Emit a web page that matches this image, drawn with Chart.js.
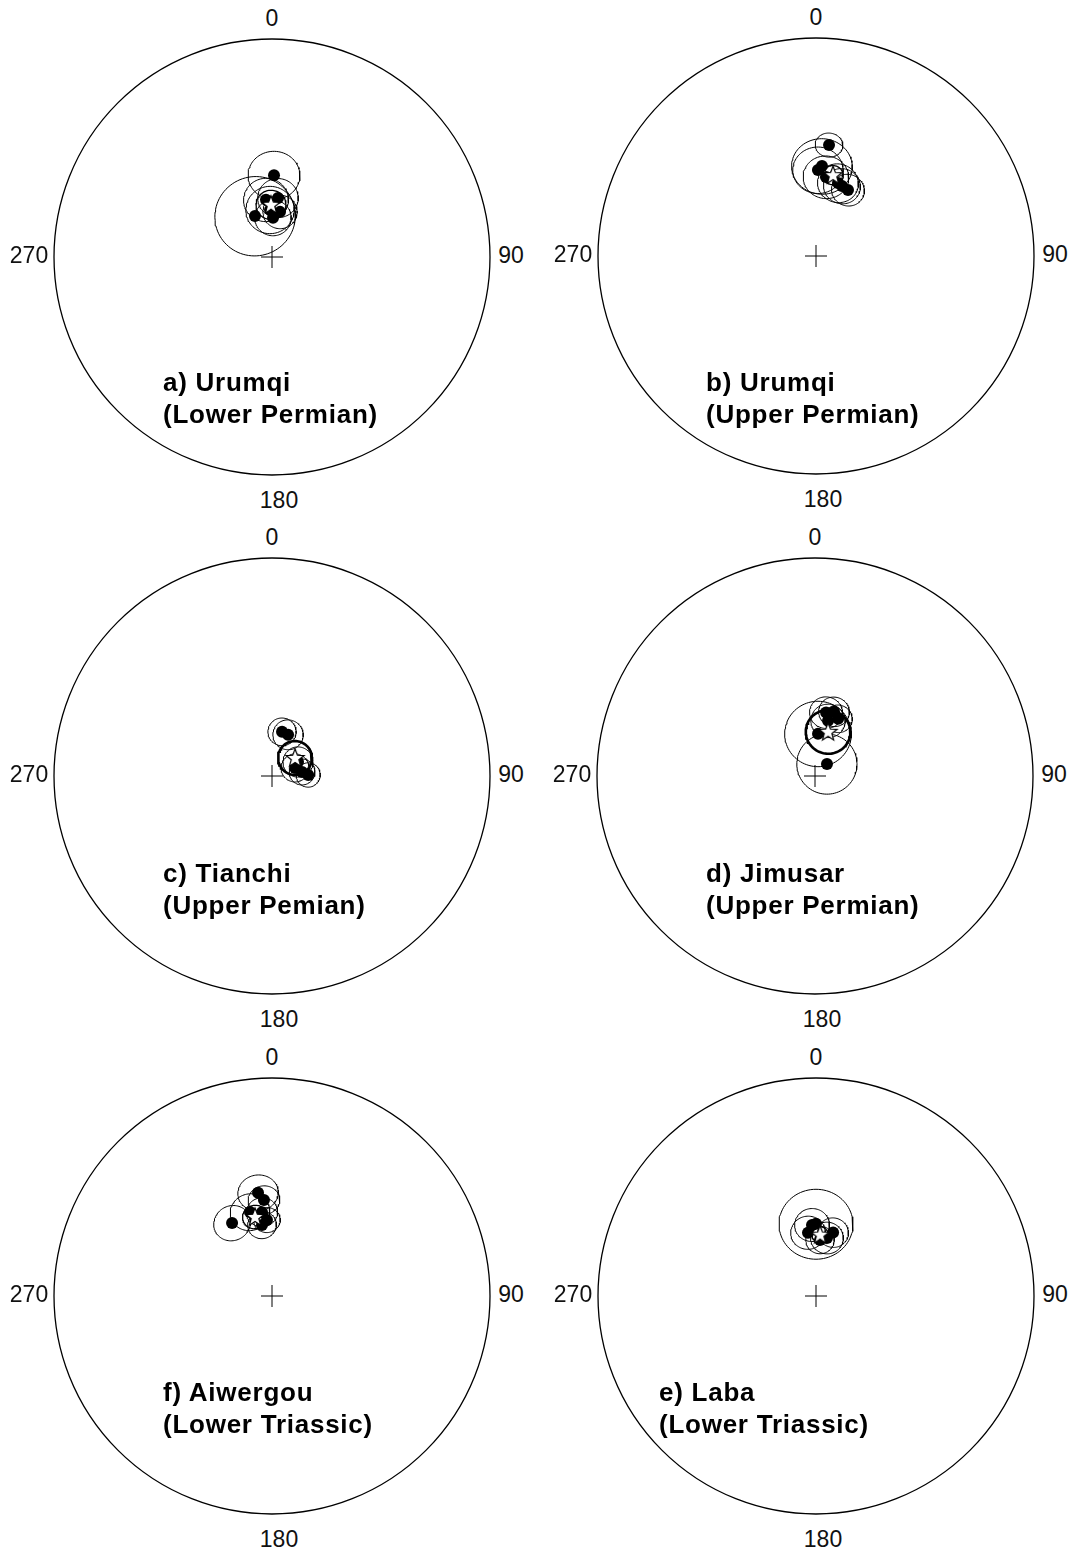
<!DOCTYPE html>
<html>
<head>
<meta charset="utf-8">
<script src="https://cdn.jsdelivr.net/npm/chart.js@4.4.1/dist/chart.umd.min.js"></script>
<style>
  body { margin: 0; background: #fff; }
  #page { position: relative; width: 1074px; height: 1553px; overflow: hidden; }
  canvas { position: absolute; }
  .lbl { position: absolute; font-family: "Liberation Sans", Arial, sans-serif; font-size: 23px; color: #111; transform: translate(-50%, -50%); white-space: nowrap; }
  .ttl { position: absolute; font-family: "Liberation Sans", Arial, sans-serif; font-weight: bold; font-size: 26px; letter-spacing: 0.75px; line-height: 32px; color: #000; white-space: nowrap; }
</style>
</head>
<body>
<div id="page"></div>
<script>
// site mean directions (declination, inclination, alpha95)
const decA = [1.4, 337.5, 1.5, 354, 5.8, 357.6, 10.1];
const incA = [59.2, 73.4, 75.4, 68.5, 67.8, 72.4, 72.9];
const a95A = [9.3, 14.9, 6.7, 8.2, 7.4, 8.9, 6.3];
const meanA = [358.9, 70.5, 5.5];

const decB = [6.7, 3.8, 7.2, 16.8, 20.4, 25.9, 1.3];
const incB = [47.5, 56, 60.1, 61.4, 62, 62.5, 57.6];
const a95B = [4.8, 10.8, 8.2, 7.4, 6.7, 6.0, 9.0];
const meanB = [11.9, 58.9, 3.7];

const decC = [12.8, 21.3, 70.8, 82.4, 88.4, 61.7];
const incC = [73.1, 73.5, 80.9, 78.7, 76.5, 79];
const a95C = [5.2, 5.6, 5.2, 4.8, 4.5, 5.6];
const meanC = [52, 79.1, 6.3];

const decD = [9.9, 16.5, 22, 13.3, 4.1, 45];
const incD = [65.9, 64.9, 66.9, 68.8, 74.2, 83.7];
const a95D = [6, 5.6, 5.2, 6.3, 12.3, 11.2];
const meanD = [16.5, 72.8, 8.2];

const decF = [352.3, 355.2, 331.3, 345.3, 353.2, 352, 356.2];
const incF = [50.5, 53.6, 58.7, 57.3, 58.2, 63.1, 61.4];
const a95F = [7.1, 5.6, 6.7, 7.1, 5.6, 5.2, 4.8];
const meanF = [347.9, 59.6, 4.5];

const decE = [356.8, 352.8, 15.1, 10.7, 4.1, 0];
const incE = [63.3, 66.1, 65.4, 67.9, 69, 62.9];
const a95E = [6.3, 6.3, 5.6, 6, 5.2, 13.4];
const meanE = [3.8, 67, 3];

const compassLabels = ['0', '90', '180', '270'];

const panels = [
  { dec: decA, inc: incA, a95: a95A, mean: meanA, title: ['a) Urumqi', '(Lower Permian)'], cx: 272, cy: 257, tx: 163, ty: 366, bold: 1.3 },
  { dec: decB, inc: incB, a95: a95B, mean: meanB, title: ['b) Urumqi', '(Upper Permian)'], cx: 816, cy: 256, tx: 706, ty: 366, bold: 1.3 },
  { dec: decC, inc: incC, a95: a95C, mean: meanC, title: ['c) Tianchi', '(Upper Pemian)'], cx: 272, cy: 776, tx: 163, ty: 857, bold: 2.6 },
  { dec: decD, inc: incD, a95: a95D, mean: meanD, title: ['d) Jimusar', '(Upper Permian)'], cx: 815, cy: 776, tx: 706, ty: 857, bold: 2.6 },
  { dec: decF, inc: incF, a95: a95F, mean: meanF, title: ['f) Aiwergou', '(Lower Triassic)'], cx: 272, cy: 1296, tx: 163, ty: 1376, bold: 1.3 },
  { dec: decE, inc: incE, a95: a95E, mean: meanE, title: ['e) Laba', '(Lower Triassic)'], cx: 816, cy: 1296, tx: 659, ty: 1376, bold: 1.3 }
];

const RAD = Math.PI / 180;

// Lambert equal-area, lower hemisphere
function project(dec, inc) {
  const p = (90 - inc) * RAD;
  const r = Math.SQRT2 * Math.sin(p / 2);
  return { x: r * Math.sin(dec * RAD), y: r * Math.cos(dec * RAD) };
}

function smallCircle(dec, inc, a95) {
  const D = dec * RAD, I = inc * RAD, a = a95 * RAD;
  const v = [Math.cos(I) * Math.cos(D), Math.cos(I) * Math.sin(D), Math.sin(I)];
  const u1 = [Math.sin(I) * Math.cos(D), Math.sin(I) * Math.sin(D), -Math.cos(I)];
  const u2 = [-Math.sin(D), Math.cos(D), 0];
  const pts = [];
  for (let t = 0; t <= 360; t += 4) {
    const ct = Math.cos(t * RAD), st = Math.sin(t * RAD);
    const w = [0, 1, 2].map(k => Math.cos(a) * v[k] + Math.sin(a) * (ct * u1[k] + st * u2[k]));
    const dw = Math.atan2(w[1], w[0]) / RAD;
    const iw = Math.asin(Math.max(-1, Math.min(1, w[2]))) / RAD;
    pts.push(project(dw, iw));
  }
  return pts;
}

// white five-pointed star for the formation mean
function makeStar() {
  const c = document.createElement('canvas');
  c.width = 22; c.height = 22;
  const g = c.getContext('2d');
  g.beginPath();
  for (let i = 0; i < 10; i++) {
    const r = i % 2 === 0 ? 9.5 : 4;
    const ang = -Math.PI / 2 + i * Math.PI / 5;
    const x = 11 + r * Math.cos(ang), y = 11.5 + r * Math.sin(ang);
    if (i === 0) g.moveTo(x, y); else g.lineTo(x, y);
  }
  g.closePath();
  g.fillStyle = '#fff';
  g.fill();
  g.lineWidth = 1.2;
  g.strokeStyle = '#000';
  g.stroke();
  return c;
}
const starImg = makeStar();

const netPlugin = {
  id: 'net',
  beforeDatasetsDraw(chart) {
    const { ctx, scales: { x, y } } = chart;
    const x0 = x.getPixelForValue(0), y0 = y.getPixelForValue(0);
    const r = x.getPixelForValue(1) - x0;
    ctx.save();
    ctx.beginPath();
    ctx.arc(x0, y0, r, 0, Math.PI * 2);
    ctx.lineWidth = 1.3;
    ctx.strokeStyle = '#000';
    ctx.stroke();
    ctx.restore();
  }
};

const page = document.getElementById('page');
const SIZE = 448, PAD = 6;

function addLabel(text, x, y) {
  const d = document.createElement('div');
  d.className = 'lbl';
  d.textContent = text;
  d.style.left = x + 'px';
  d.style.top = y + 'px';
  page.appendChild(d);
}

panels.forEach(p => {
  const cv = document.createElement('canvas');
  cv.width = SIZE; cv.height = SIZE;
  cv.style.left = (p.cx - SIZE / 2) + 'px';
  cv.style.top = (p.cy - SIZE / 2) + 'px';
  page.appendChild(cv);

  const datasets = [];
  // mean star on top
  datasets.push({
    data: [project(p.mean[0], p.mean[1])],
    pointStyle: starImg, pointRadius: 10, order: 0
  });
  datasets.push({
    data: p.dec.map((d, i) => project(d, p.inc[i])),
    pointStyle: 'circle', pointRadius: 6,
    backgroundColor: '#000', borderColor: '#000', borderWidth: 0, order: 1
  });
  datasets.push({
    data: [{ x: 0, y: 0 }],
    pointStyle: 'cross', pointRadius: 11, borderColor: '#000', borderWidth: 1, order: 2
  });
  datasets.push({
    data: smallCircle(p.mean[0], p.mean[1], p.mean[2]),
    showLine: true, pointRadius: 0, borderColor: '#000', borderWidth: p.bold, order: 3
  });
  p.dec.forEach((d, i) => {
    datasets.push({
      data: smallCircle(d, p.inc[i], p.a95[i]),
      showLine: true, pointRadius: 0, borderColor: '#000', borderWidth: 1, order: 4
    });
  });

  new Chart(cv.getContext('2d'), {
    type: 'scatter',
    data: { datasets },
    options: {
      responsive: false,
      animation: false,
      layout: { padding: PAD, autoPadding: false },
      plugins: { legend: { display: false }, tooltip: { enabled: false } },
      scales: {
        x: { display: false, min: -1, max: 1 },
        y: { display: false, min: -1, max: 1 }
      }
    },
    plugins: [netPlugin]
  });

  addLabel(compassLabels[0], p.cx, p.cy - 239);
  addLabel(compassLabels[1], p.cx + 239, p.cy - 2);
  addLabel(compassLabels[2], p.cx + 7, p.cy + 243);
  addLabel(compassLabels[3], p.cx - 243, p.cy - 2);

  const t = document.createElement('div');
  t.className = 'ttl';
  t.innerHTML = p.title[0] + '<br>' + p.title[1];
  t.style.left = p.tx + 'px';
  t.style.top = p.ty + 'px';
  page.appendChild(t);
});
</script>
</body>
</html>
